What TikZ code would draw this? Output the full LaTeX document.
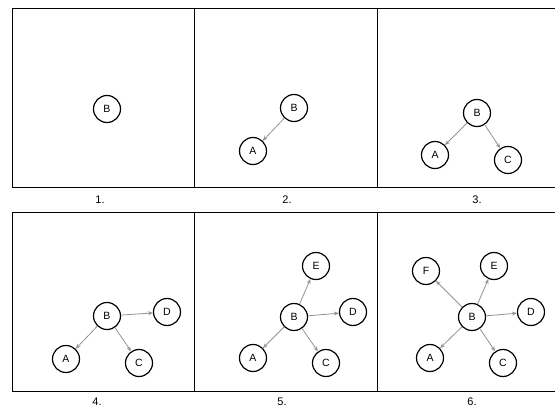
\documentclass[tikz,border=0pt]{standalone}
\usepackage{fontspec}
\setmainfont{Liberation Sans}
\usetikzlibrary{arrows.meta}
\begin{document}
\begin{tikzpicture}[x=1pt,y=-1pt,
  vtx/.style={circle,draw=black,line width=1.2pt,minimum size=27pt,inner sep=0pt,font=\fontsize{10.5}{12}\selectfont},
  edge/.style={draw=gray!85,line width=0.8pt,-{Stealth[length=5pt,width=4pt]}},
  frame/.style={draw=black,line width=0.9pt},
  lbl/.style={font=\fontsize{11}{13}\selectfont,inner sep=0pt}]
\useasboundingbox (0,0) rectangle (555,412);
% frames
\draw[frame] (555,8) -- (12,8) -- (12,187) -- (555,187);
\draw[frame] (194,8) -- (194,187);
\draw[frame] (377,8) -- (377,187);
\draw[frame] (555,212) -- (12,212) -- (12,391) -- (555,391);
\draw[frame] (194,212) -- (194,391);
\draw[frame] (377,212) -- (377,391);
% labels
\node[lbl] (l1) at (100,200) {1.};
\node[lbl] (l2) at (287,200) {2.};
\node[lbl] (l3) at (477,200) {3.};
\node[lbl] (l4) at (97,402) {4.};
\node[lbl] (l5) at (282,402) {5.};
\node[lbl] (l6) at (472,402) {6.};
% panel 1
\node[vtx] (b1) at (107,109) {B};
% panel 2
\node[vtx] (b2) at (294,108) {B};
\node[vtx] (a2) at (253,151) {A};
\draw[edge] (b2) -- (a2);
% panel 3
\node[vtx] (b3) at (477,113) {B};
\node[vtx] (a3) at (435,155) {A};
\node[vtx] (c3) at (508,160) {C};
\draw[edge] (b3) -- (a3);
\draw[edge] (b3) -- (c3);
% panel 4
\node[vtx] (b4) at (107,316) {B};
\node[vtx] (a4) at (66,359) {A};
\node[vtx] (c4) at (139,363) {C};
\node[vtx] (d4) at (167,312) {D};
\draw[edge] (b4) -- (a4);
\draw[edge] (b4) -- (c4);
\draw[edge] (b4) -- (d4);
% panel 5
\node[vtx] (b5) at (294,317) {B};
\node[vtx] (a5) at (253,358) {A};
\node[vtx] (c5) at (326,363) {C};
\node[vtx] (d5) at (353,312) {D};
\node[vtx] (e5) at (316,266) {E};
\draw[edge] (b5) -- (a5);
\draw[edge] (b5) -- (c5);
\draw[edge] (b5) -- (d5);
\draw[edge] (b5) -- (e5);
% panel 6
\node[vtx] (b6) at (472,317) {B};
\node[vtx] (a6) at (430,358) {A};
\node[vtx] (c6) at (503,363) {C};
\node[vtx] (d6) at (531,312) {D};
\node[vtx] (e6) at (494,266) {E};
\node[vtx] (f6) at (426,271) {F};
\draw[edge] (b6) -- (a6);
\draw[edge] (b6) -- (c6);
\draw[edge] (b6) -- (d6);
\draw[edge] (b6) -- (e6);
\draw[edge] (b6) -- (f6);
\end{tikzpicture}
\end{document}
